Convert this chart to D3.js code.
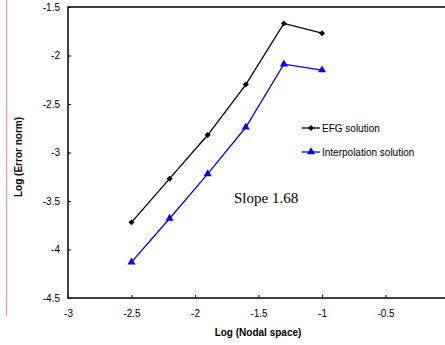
<!DOCTYPE html>
<html><head><meta charset="utf-8">
<script src="https://cdn.jsdelivr.net/npm/d3@7"></script>
<style>body{margin:0;background:#fff}svg{display:block}</style>
</head><body>
<script>
const xValues = [-2.5, -2.2, -1.9, -1.6, -1.3, -1.0];
const efgValues = [-3.72, -3.27, -2.82, -2.30, -1.67, -1.77];
const interpValues = [-4.13, -3.68, -3.22, -2.74, -2.09, -2.15];
const xTicks = [-3, -2.5, -2, -1.5, -1, -0.5];
const yTicks = [-1.5, -2, -2.5, -3, -3.5, -4, -4.5];
const seriesNames = ["EFG solution", "Interpolation solution"];

const W = 445, H = 345;
const svg = d3.select("body").append("svg").attr("width", W).attr("height", H);
const font = "Liberation Sans, Arial, sans-serif";

const L = 68, R = 449, T = 7, B = 298;
const x = d3.scaleLinear().domain([-3, 0]).range([L, R]);
const y = d3.scaleLinear().domain([-4.5, -1.5]).range([B, T]);

// pink margin line
svg.append("line").attr("x1", 6.5).attr("x2", 6.5).attr("y1", 0).attr("y2", 316)
  .attr("stroke", "#ff9a9a").attr("stroke-width", 1.2);

// frame
svg.append("rect").attr("x", L).attr("y", T).attr("width", R - L).attr("height", B - T)
  .attr("fill", "none").attr("stroke", "#000").attr("stroke-width", 1.5);

// axes
const xAxis = d3.axisBottom(x).tickValues(xTicks).tickSizeInner(-3).tickSizeOuter(0).tickPadding(12)
  .tickFormat(d => String(d));
const gx = svg.append("g").attr("transform", `translate(0,${B})`).call(xAxis);
gx.select(".domain").remove();
gx.selectAll("text").attr("font-family", font).attr("font-size", 10).attr("fill", "#000");
gx.selectAll("line").attr("stroke", "#000");

const yAxis = d3.axisLeft(y).tickValues(yTicks).tickSizeInner(-3).tickSizeOuter(0).tickPadding(8)
  .tickFormat(d => String(d));
const gy = svg.append("g").attr("transform", `translate(${L},0)`).call(yAxis);
gy.select(".domain").remove();
gy.selectAll("text").attr("font-family", font).attr("font-size", 10).attr("fill", "#000");
gy.selectAll("line").attr("stroke", "#000");

// axis titles
svg.append("text").attr("x", 258).attr("y", 336).attr("text-anchor", "middle")
  .attr("font-family", font).attr("font-size", 10).attr("font-weight", "bold").text("Log (Nodal space)");
svg.append("text").attr("transform", "translate(22,157) rotate(-90)").attr("text-anchor", "middle")
  .attr("font-family", font).attr("font-size", 10).attr("font-weight", "bold").text("Log (Error norm)");

const line = d3.line().x(d => x(d[0])).y(d => y(d[1]));
const series = [
  { name: seriesNames[0], vals: efgValues, color: "#000", sym: d3.symbolSquare, size: 18, rot: 45 },
  { name: seriesNames[1], vals: interpValues, color: "#0000ff", sym: d3.symbolTriangle, size: 28, rot: 0 }
];
series.forEach(s => {
  const pts = xValues.map((xv, i) => [xv, s.vals[i]]);
  svg.append("path").attr("d", line(pts)).attr("fill", "none").attr("stroke", s.color).attr("stroke-width", 1.3);
  svg.selectAll(null).data(pts).enter().append("path")
    .attr("d", d3.symbol().type(s.sym).size(s.size))
    .attr("transform", d => `translate(${x(d[0])},${y(d[1])}) rotate(${s.rot})`)
    .attr("fill", s.color);
});

// legend
series.forEach((s, i) => {
  const ly = 128 + i * 24;
  svg.append("line").attr("x1", 302).attr("x2", 320).attr("y1", ly).attr("y2", ly)
    .attr("stroke", s.color).attr("stroke-width", 1.3);
  svg.append("path").attr("d", d3.symbol().type(s.sym).size(s.size)())
    .attr("transform", `translate(311,${ly}) rotate(${s.rot})`).attr("fill", s.color);
  svg.append("text").attr("x", 322).attr("y", ly + 3.5).attr("font-family", font).attr("font-size", 10)
    .attr("fill", "#000").text(s.name);
});

// slope annotation
svg.append("text").attr("x", 234).attr("y", 203).attr("font-family", "Liberation Serif, Times New Roman, serif")
  .attr("font-size", 15).attr("fill", "#000").text("Slope 1.68");
</script>
</body></html>
